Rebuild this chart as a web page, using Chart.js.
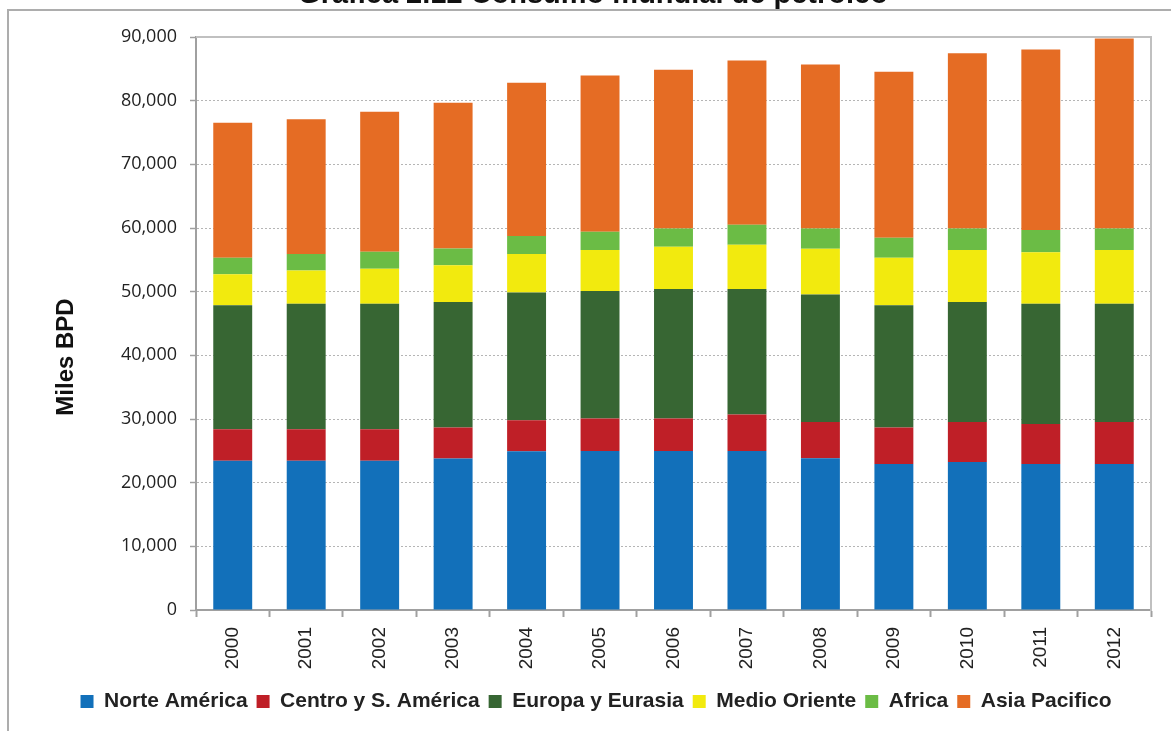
<!DOCTYPE html>
<html>
<head>
<meta charset="utf-8">
<script src="https://cdn.jsdelivr.net/npm/chart.js@4/dist/chart.umd.min.js"></script>
<style>
  html, body { margin: 0; padding: 0; background: #fff; }
  #wrap { position: relative; width: 1171px; height: 731px; overflow: hidden; }
</style>
</head>
<body>
<div id="wrap"><canvas id="myChart" width="1171" height="731"></canvas></div>
<script>
const titleText = 'Gráfica 2.12 Consumo mundial de petróleo';
const yTitle = 'Miles BPD';
const years = ['2000', '2001', '2002', '2003', '2004', '2005', '2006', '2007', '2008', '2009', '2010', '2011', '2012'];
const yTickValues = [0, 10000, 20000, 30000, 40000, 50000, 60000, 70000, 80000, 90000];

// miles de barriles por día
const norteAmerica = [23460, 23460, 23460, 23780, 24930, 24970, 24970, 24970, 23820, 22930, 23240, 22930, 22930];
const centroSur = [4930, 4930, 4930, 4880, 4880, 5100, 5100, 5730, 5720, 5730, 6300, 6290, 6610];
const europaEurasia = [19480, 19730, 19730, 19730, 20040, 20050, 20360, 19730, 20000, 19210, 18850, 18900, 18580];
const medioOriente = [4880, 5190, 5460, 5770, 6050, 6410, 6620, 6930, 7190, 7440, 8140, 8090, 8410];
const africa = [2560, 2590, 2680, 2620, 2830, 2880, 2880, 3150, 3200, 3150, 3400, 3470, 3400];
const asiaPacifico = [21210, 21190, 22000, 22890, 24090, 24560, 24940, 25780, 25770, 26090, 27500, 28340, 29820];

const frame = {
    id: 'frame',
    beforeDraw(chart) {
        const ctx = chart.ctx;
        ctx.save();
        ctx.strokeStyle = '#adadad';
        ctx.lineWidth = 2;
        ctx.beginPath();
        ctx.moveTo(8, 731);
        ctx.lineTo(8, 10);
        ctx.lineTo(1171, 10);
        ctx.stroke();

        ctx.fillStyle = '#111';
        ctx.textAlign = 'center';
        ctx.font = 'bold 29px Arial';
        ctx.textBaseline = 'alphabetic';
        ctx.fillText(titleText, 593, 3);

        ctx.translate(66, 357);
        ctx.rotate(-Math.PI / 2);
        ctx.font = 'bold 24px Arial';
        ctx.textBaseline = 'middle';
        ctx.fillText(yTitle, 0, 0);
        ctx.restore();
    },
    beforeDatasetsDraw(chart) {
        const { ctx, chartArea } = chart;
        ctx.save();
        ctx.strokeStyle = '#c0c0c0';
        ctx.lineWidth = 2;
        ctx.beginPath();
        ctx.moveTo(chartArea.left, chartArea.top);
        ctx.lineTo(chartArea.right, chartArea.top);
        ctx.stroke();
        ctx.restore();
    }
};

const canvas = document.getElementById('myChart');
new Chart(canvas, {
    type: 'bar',
    data: {
        labels: years,
        datasets: [
            { label: 'Norte América', data: norteAmerica, backgroundColor: '#1270ba' },
            { label: 'Centro y S. América', data: centroSur, backgroundColor: '#bf1f27' },
            { label: 'Europa y Eurasia', data: europaEurasia, backgroundColor: '#376633' },
            { label: 'Medio Oriente', data: medioOriente, backgroundColor: '#f2ea0e' },
            { label: 'Africa', data: africa, backgroundColor: '#6bbc45' },
            { label: 'Asia Pacifico', data: asiaPacifico, backgroundColor: '#e56c24' }
        ]
    },
    options: {
        responsive: false,
        animation: false,
        layout: { padding: { top: 37, right: 0, bottom: 9, left: 21 } },
        datasets: { bar: { barPercentage: 0.53, categoryPercentage: 1 } },
        plugins: {
            legend: {
                position: 'bottom',
                labels: {
                    font: { family: 'Arial', size: 21, weight: 'bold' },
                    color: '#222',
                    boxWidth: 13,
                    boxHeight: 13,
                    padding: 9
                }
            },
            tooltip: { enabled: false }
        },
        scales: {
            x: {
                stacked: true,
                afterFit: scale => { scale.height = 72; },
                grid: { drawOnChartArea: false, tickLength: 7, tickColor: '#a0a0a0', tickWidth: 2 },
                border: { color: '#a0a0a0', width: 2 },
                ticks: {
                    minRotation: 90, maxRotation: 90, padding: 10,
                    font: { family: 'Arial', size: 19 }, color: '#222'
                }
            },
            y: {
                stacked: true,
                min: 0,
                max: 90000,
                afterFit: scale => { scale.width = 175; },
                afterBuildTicks: scale => { scale.ticks = yTickValues.map(v => ({ value: v })); },
                grid: { color: '#b5b5b5', tickColor: '#a0a0a0', tickLength: 6, tickBorderDash: [], tickWidth: 1.5 },
                border: { color: '#a0a0a0', width: 2, dash: [2, 2] },
                ticks: {
                    padding: 13,
                    font: { family: 'Open Sans', size: 18 }, color: '#222',
                    callback: v => v.toLocaleString('en-US')
                }
            },
            yRight: {
                position: 'right',
                afterFit: scale => { scale.width = 20; },
                grid: { display: false },
                ticks: { display: false },
                border: { color: '#c0c0c0', width: 2 }
            }
        }
    },
    plugins: [frame]
});
</script>
</body>
</html>
